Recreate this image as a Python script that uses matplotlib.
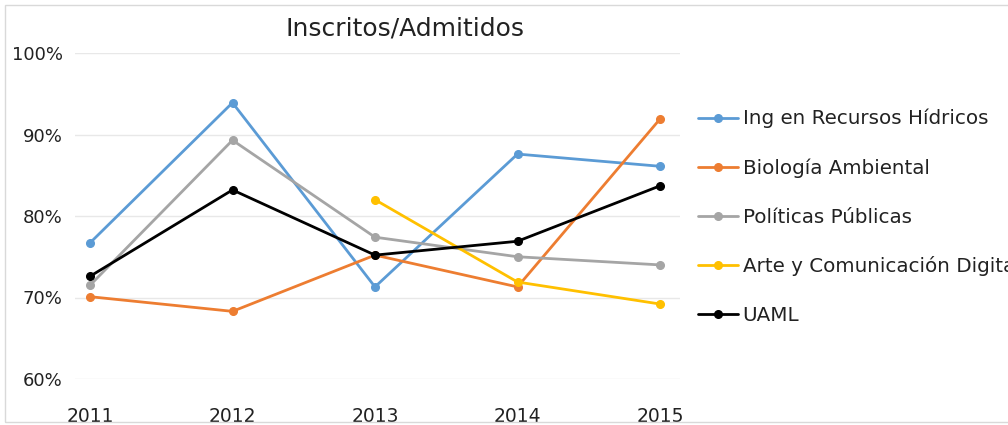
import matplotlib
matplotlib.use("Agg")
import matplotlib.pyplot as plt
from matplotlib.patches import Rectangle

years = [2011, 2012, 2013, 2014, 2015]
ing = [76.7, 93.9, 71.3, 87.6, 86.1]
bio = [70.1, 68.3, 75.2, 71.3, 91.9]
pol = [71.5, 89.3, 77.4, 75.0, 74.0]
arte_years = [2013, 2014, 2015]
arte = [82.0, 71.9, 69.2]
uaml = [72.6, 83.2, 75.2, 76.9, 83.7]
labels = ["Ing en Recursos Hídricos", "Biología Ambiental", "Políticas Públicas",
          "Arte y Comunicación Digital", "UAML"]
colors = ["#5B9BD5", "#ED7D31", "#A5A5A5", "#FFC000", "#000000"]
yticks = [60, 70, 80, 90, 100]

plt.rcParams['font.family'] = ['DejaVu Sans']
W, H = 1008, 425
fig = plt.figure(figsize=(W / 100, H / 100), dpi=100)
fig.patch.set_facecolor("white")
ax = fig.add_axes([75 / W, 1 - 379 / H, (680 - 75) / W, (379 - 53) / H])

series = [(years, ing), (years, bio), (years, pol), (arte_years, arte), (years, uaml)]
for (xs, ys), lab, c in zip(series, labels, colors):
    ax.plot(xs, ys, color=c, lw=2.0, marker="o", ms=5.5, label=lab, solid_capstyle="round")

ax.set_ylim(60, 100)
ax.set_xlim(2011 - 15 / 142.5, 2015 + 20 / 142.5)
ax.set_yticks(yticks)
ax.set_yticklabels([f"{v}%" for v in yticks])
ax.set_xticks(years)
ax.set_xticklabels([str(y) for y in years])
ax.grid(axis="y", color="#e8e8e8", lw=1.0)
ax.set_axisbelow(True)
for s in ax.spines.values():
    s.set_visible(False)
ax.tick_params(axis="both", length=0, colors="#222222")
ax.tick_params(axis="y", pad=9, labelsize=13)
ax.tick_params(axis="x", pad=20, labelsize=13.5)

fig.text(405 / W, 1 - 28 / H, "Inscritos/Admitidos", ha="center", va="center",
         fontsize=18, color="#222222")

leg = ax.legend(loc="upper left", bbox_to_anchor=(698 / W, 1 - 109 / H),
                bbox_transform=fig.transFigure, frameon=False, fontsize=14.3,
                handlelength=2.0, handletextpad=0.25, labelspacing=1.5,
                borderaxespad=0, borderpad=0)
for t in leg.get_texts():
    t.set_color("#222222")

fig.patches.append(Rectangle((5 / W, 3 / H), 1.2, 1 - 8 / H, transform=fig.transFigure,
                             fill=False, edgecolor="#d9d9d9", lw=1.0))

fig.savefig("out.png", dpi=100, facecolor="white")
